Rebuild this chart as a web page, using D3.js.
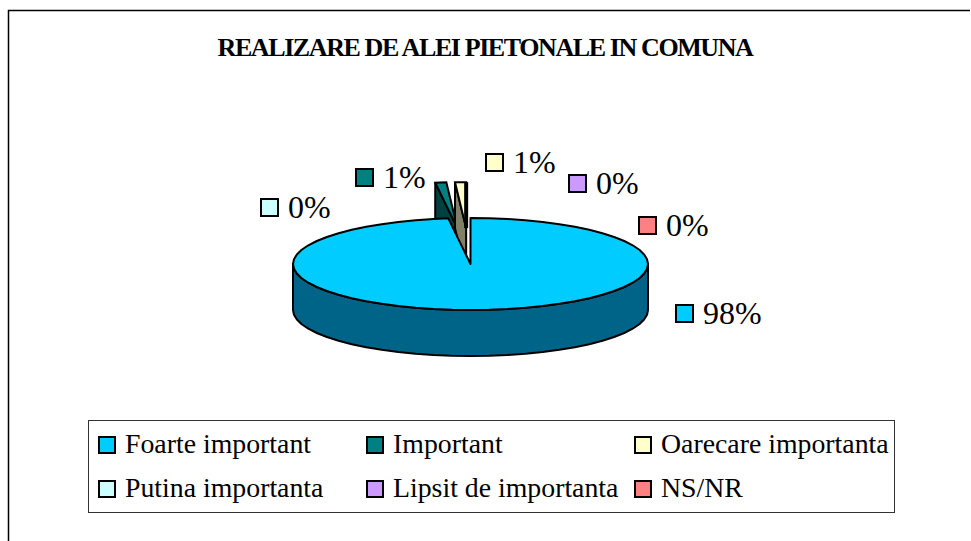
<!DOCTYPE html>
<html><head><meta charset="utf-8">
<script src="https://cdn.jsdelivr.net/npm/d3@7"></script>
<style>html,body{margin:0;padding:0;background:#fff}svg{display:block}text{font-family:"Liberation Serif",serif;fill:#000}</style>
</head><body><svg id="c" width="971" height="541"></svg>
<script>
const titleText = "REALIZARE DE ALEI PIETONALE IN COMUNA";
const categories = ["Foarte important","Important","Oarecare importanta","Putina importanta","Lipsit de importanta","NS/NR"];
const values = [98,1,1,0,0,0];
const topColors = ["#00CCFF","#008080","#FFFFCC","#CCFFFF","#CC99FF","#FF8080"];
const wallColors = ["#006488","#004040","#808066","#668080","#664C80","#804040"];
const labelKeyX = [675,355,485,260,568,638];
const labelKeyY = [304,168,153,198,174,216];
const legendKeyX = [98,366,634,98,366,634];
const legendRowY = [444,444,444,488,488,488];

const svg = d3.select("#c");
const cx=470.5, cy=264, rx=177.5, ry=46, depth=46, explode=0.78;
const px = d3.scaleLinear().domain([-1,1]).range([cx-rx,cx+rx]);
const py = d3.scaleLinear().domain([-1,1]).range([cy+ry,cy-ry]);
const arcs = d3.pie().sort(null).value(d=>d)(values);
const pt = (a,r=1,ex=0,mid=0)=>[px(r*Math.sin(a)+ex*Math.sin(mid)),py(r*Math.cos(a)+ex*Math.cos(mid))];
const line = d3.line();
const black="#000";
const sw=2;

svg.append("path").attr("d","M8.5,541V10.5H970").attr("fill","none").attr("stroke","#000").attr("stroke-width",1.5);
svg.append("text").attr("x",485).attr("y",56).attr("text-anchor","middle").attr("font-weight","bold")
  .attr("font-size",26).attr("letter-spacing",-1.4).text(titleText);

arcs.forEach((d,i)=>{
  if(i===0||d.value===0) return;
  const mid=(d.startAngle+d.endAngle)/2;
  const apex=pt(0,0,explode,mid), rimL=pt(d.startAngle,1,explode,mid), rimR=pt(d.endAngle,1,explode,mid);
  const down=p=>[p[0],p[1]+depth];
  svg.append("path").attr("d",line([rimL,apex,down(apex),down(rimL)])+"Z")
    .attr("fill",wallColors[i]).attr("stroke",black).attr("stroke-width",sw);
  svg.append("path").attr("d",line([apex,rimL,rimR])+"Z")
    .attr("fill",topColors[i]).attr("stroke",black).attr("stroke-width",sw);
  if(i===2) svg.append("path").attr("d",line([rimR,apex])).attr("stroke",black).attr("stroke-width",4).attr("fill","none");
});

const m=arcs[0];
const stepA=Math.PI/30;
const frontWall=d3.range(Math.PI/2,3*Math.PI/2+0.001,stepA);
const topRim=[...d3.range(m.startAngle,m.endAngle,stepA),m.endAngle];
const wallTop=frontWall.map(a=>pt(a));
const wallBot=frontWall.map(a=>{const p=pt(a);return [p[0],p[1]+depth];});
svg.append("path").attr("d",line([...wallTop,...wallBot.reverse()])+"Z")
  .attr("fill",wallColors[0]).attr("stroke",black).attr("stroke-width",sw).attr("stroke-linejoin","round");
svg.append("path").attr("d",line([pt(0,0),...topRim.map(a=>pt(a))])+"Z")
  .attr("fill",topColors[0]).attr("stroke",black).attr("stroke-width",sw).attr("stroke-linejoin","round");

const key=(x,y,s,c)=>svg.append("rect").attr("x",x+1).attr("y",y+1).attr("width",s).attr("height",s)
  .attr("fill",c).attr("stroke",black).attr("stroke-width",2);
const total=d3.sum(values);
values.forEach((v,i)=>{
  key(labelKeyX[i],labelKeyY[i],17,topColors[i]);
  svg.append("text").attr("x",labelKeyX[i]+28).attr("y",labelKeyY[i]+19.5).attr("font-size",32)
    .text(d3.format(".0%")(v/total));
});

svg.append("rect").attr("x",88.5).attr("y",420.5).attr("width",806).attr("height",92)
  .attr("fill","#fff").attr("stroke","#333").attr("stroke-width",1);
categories.forEach((c,i)=>{
  key(legendKeyX[i],legendRowY[i]-8,16,topColors[i]);
  svg.append("text").attr("x",legendKeyX[i]+27).attr("y",legendRowY[i]+9).attr("font-size",27.8).text(c);
});
</script></body></html>
